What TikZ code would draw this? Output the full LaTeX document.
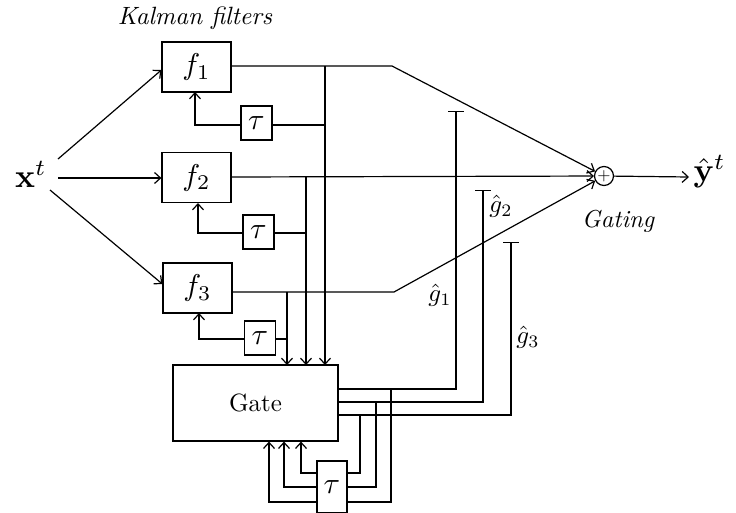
\documentclass[tikz,border=0pt]{standalone}
\usepackage{amsmath}
\usepackage{graphicx}
\usetikzlibrary{arrows.meta}
\newcommand{\sz}[2]{\scalebox{#1}{#2}}
\begin{document}
\begin{tikzpicture}[x=1pt,y=-1pt,line width=1.2pt,
  >={Straight Barb[length=6pt,width=11pt]},
  fbox/.style={draw,minimum width=69pt,minimum height=50pt,inner sep=0pt},
  delay/.style={draw,minimum width=31pt,minimum height=34pt,inner sep=0pt},
  lbl/.style={inner sep=0pt},
  gbar/.style={-{Bar[width=16pt]}}]
\useasboundingbox (0,0) rectangle (736,512);
\clip (0,0) rectangle (736,512);

% input and output
\node[inner sep=0pt] (x) at (31,174) {\sz{3.3}{$\mathbf{x}^t$}};
\node[inner sep=0pt,anchor=west] (y) at (693,172) {\sz{3.3}{$\hat{\mathbf{y}}^t$}};
\coordinate (xo1) at (58,159);
\coordinate (xo2) at (58,178);
\coordinate (xo3) at (50,190);

% filters
\node[fbox] (f1) at (196.5,67) {\sz{3.0}{$f_1$}};
\node[fbox] (f2) at (196.5,177.5) {\sz{3.0}{$f_2$}};
\node[fbox] (f3) at (197.5,288) {\sz{3.0}{$f_3$}};
\node[delay] (t1) at (256.5,123) {\sz{3.0}{$\tau$}};
\node[delay] (t2) at (258.5,232) {\sz{3.0}{$\tau$}};
\node[delay] (t3) at (260,338) {\sz{3.0}{$\tau$}};
\node[inner sep=0pt] (kf) at (195,18) {\sz{2.5}{\itshape Kalman filters}};

% gate
\node[draw,minimum width=165pt,minimum height=76pt,inner sep=0pt] (gate) at (255.5,403) {\sz{2.5}{Gate}};
\node[draw,minimum width=30pt,minimum height=52pt,inner sep=0pt] (tg) at (332,487) {\sz{3.0}{$\tau$}};

% sum
\node[draw,circle,minimum size=19pt,inner sep=0pt] (sum) at (604,176) {\sz{1.7}{$+$}};
\node[inner sep=0pt] (gating) at (618,221) {\sz{2.45}{\itshape Gating}};

% input arrows
\draw[->] (xo1) -- (f1.west |- 0,70);
\draw[->] (xo2) -- (f2.west |- 0,178);
\draw[->] (xo3) -- (f3.west |- 0,284);

% filter outputs to sum
\coordinate (k1) at (392,66);
\coordinate (k3) at (394,292);
\draw[->] (f1.east |- 0,66) -- (k1) -- (sum);
\draw[->] (f2.east |- 0,177) -- (sum);
\draw[->] (f3.east |- 0,292) -- (k3) -- (sum);
\draw[->] (sum) -- (689,177) coordinate (so);

% branches to gate
\draw[->] (325,66) -- (325,365);
\draw[->] (306,177) -- (306,365);
\draw[->] (287,292) -- (287,365);

% delay loops of filters
\draw[->] (325,125) -- (t1.east |- 0,125) (t1.west |- 0,125) -- (195,125) -- (195,92);
\draw[->] (306,233) -- (t2.east |- 0,233) (t2.west |- 0,233) -- (198,233) -- (198,203);
\draw[->] (287,339) -- (t3.east |- 0,339) (t3.west |- 0,339) -- (199,339) -- (199,313);

% gate outputs
\draw[gbar] (gate.east |- 0,389) -- (456,389) -- (456,111);
\draw[gbar] (gate.east |- 0,402) -- (483,402) -- (483,190);
\draw[gbar] (gate.east |- 0,415) -- (511,415) -- (511,242);
\node[lbl] (g1) at (440,295) {\sz{2.5}{$\hat{g}_1$}};
\node[lbl] (g2) at (501,206) {\sz{2.5}{$\hat{g}_2$}};
\node[lbl] (g3) at (528,337) {\sz{2.5}{$\hat{g}_3$}};

% gate delay loop
\draw (391,389) -- (391,502) -- (tg.east |- 0,502);
\draw (376,402) -- (376,487) -- (tg.east |- 0,487);
\draw (360,415) -- (360,473) -- (tg.east |- 0,473);
\draw[->] (tg.west |- 0,473) -- (301,473) -- (gate.south -| 301,0);
\draw[->] (tg.west |- 0,487) -- (284,487) -- (gate.south -| 284,0);
\draw[->] (tg.west |- 0,502) -- (269,502) -- (gate.south -| 269,0);
\end{tikzpicture}
\end{document}
